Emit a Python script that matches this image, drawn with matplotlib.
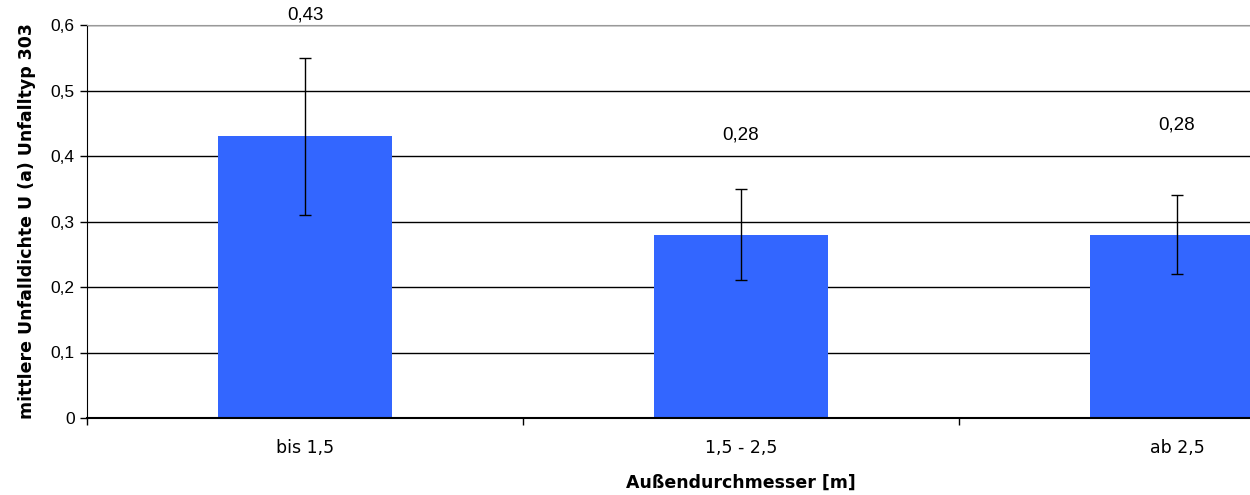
import numpy as np
from matplotlib import pyplot as plt

categories = ['bis 1,5', '1,5 - 2,5', 'ab 2,5']
values = [0.43, 0.28, 0.28]
err_low = [0.31, 0.21, 0.22]
err_high = [0.55, 0.35, 0.34]
labels = ['0,43', '0,28', '0,28']

plt.rcParams['font.family'] = ['Liberation Sans', 'DejaVu Sans']

fig = plt.figure(figsize=(12.5, 4.95), dpi=100)
# axis extends past the right edge like in the original export
ax = fig.add_axes([87/1250, 1 - 418/495, 1308/1250, 393/495])

x = np.arange(len(categories))
vals = np.array(values)
yerr = [vals - np.array(err_low), np.array(err_high) - vals]

ax.bar(x, vals, width=0.4, color='#3366ff', zorder=2)
ax.errorbar(x, vals, yerr=yerr, fmt='none', ecolor='black', elinewidth=1,
            capsize=4.5, capthick=1, zorder=3)

# value labels (offsets as in the original)
offsets = [0.185, 0.152, 0.167]
for xi, v, lab, off in zip(x, vals, labels, offsets):
    ax.text(xi, v + off, lab, ha='center', va='center', fontsize=13.5)

ax.set_xlim(-0.5, 2.5)
ax.set_ylim(0, 0.6)
yt = np.arange(0, 0.61, 0.1)
ax.set_yticks(yt)
ax.set_yticklabels(['0' if t == 0 else ('%.1f' % t).replace('.', ',') for t in yt],
                   fontsize=12.5)
ax.yaxis.grid(True, color='black', lw=1, zorder=1)
ax.set_axisbelow(True)
ax.tick_params(axis='y', direction='out', length=5, width=1, pad=4)

ax.set_xticks([-0.5, 0.5, 1.5, 2.5])
ax.set_xticklabels([])
ax.set_xticks(x, minor=True)
ax.set_xticklabels(categories, minor=True, fontsize=12.5, family='DejaVu Sans')
ax.tick_params(axis='x', which='major', direction='out', length=5, width=1)
ax.tick_params(axis='x', which='minor', length=0, pad=15)

ax.spines['top'].set_color('#999999')
ax.spines['right'].set_visible(False)
ax.spines['bottom'].set_linewidth(1.5)

ax.set_ylabel('mittlere Unfalldichte U (a) Unfalltyp 303', fontsize=12.5,
              fontweight='bold', family='DejaVu Sans', labelpad=10)
ax.set_xlabel('Außendurchmesser [m]', fontsize=12.5, fontweight='bold',
              family='DejaVu Sans', labelpad=12)

plt.savefig('out.png', dpi=100)
